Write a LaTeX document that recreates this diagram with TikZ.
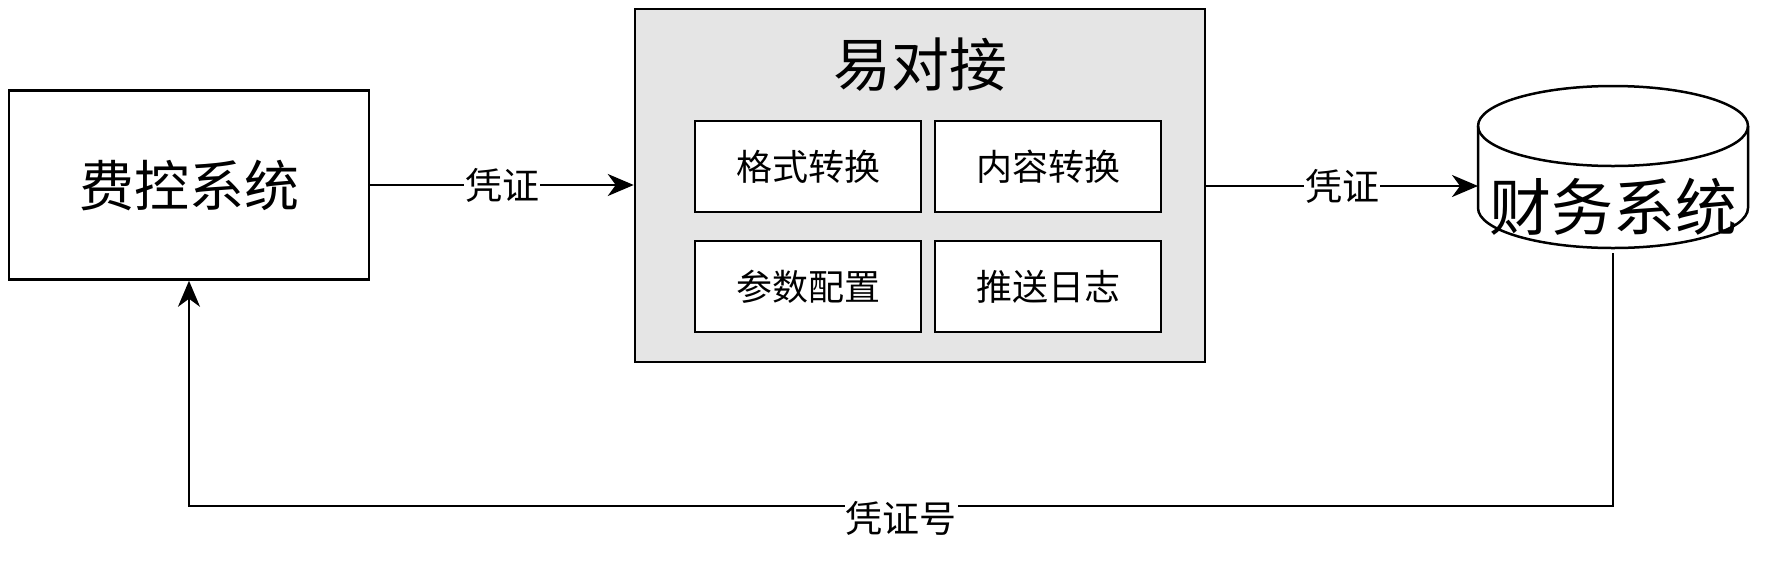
\documentclass[tikz,border=0pt]{standalone}
\usepackage{fontspec}
\setmainfont{Noto Sans CJK SC}
\usetikzlibrary{arrows.meta}
\tikzset{
  box/.style={draw,line width=2.5pt,minimum width=#1,inner sep=0pt},
  line/.style={line width=2.5pt},
  arr/.style={line,-{Stealth[length=26pt,width=22pt,inset=8pt]}},
  lbl/.style={fill=white,inner sep=1pt,font=\fontsize{37}{37}\selectfont}
}
\begin{document}
\begin{tikzpicture}[x=1pt,y=-1pt]
  \useasboundingbox (0,0) rectangle (1791,582);
  % left system
  \node[box=360pt,minimum height=189pt,font=\fontsize{55}{55}\selectfont] (fk) at (189,185) {费控系统};
  % middle platform
  \node[box=570pt,minimum height=353pt,fill=black!10] (ydj) at (920,185.5) {};
  \node[font=\fontsize{58}{58}\selectfont] (title) at (920,65) {易对接};
  \begin{scope}[every node/.style={box=226pt,minimum height=91pt,fill=white,font=\fontsize{36}{36}\selectfont}]
    \node (gs) at (808,166.5) {格式转换};
    \node (nr) at (1048,166.5) {内容转换};
    \node (cs) at (808,286.5) {参数配置};
    \node (ts) at (1048,286.5) {推送日志};
  \end{scope}
  % right system (cylinder)
  \draw[line,fill=white] (1478,126) -- (1478,208) arc[start angle=180,end angle=0,x radius=135,y radius=40]
    -- (1748,126) arc[start angle=0,end angle=-180,x radius=135,y radius=40] -- cycle;
  \draw[line] (1478,126) arc[start angle=180,end angle=0,x radius=135,y radius=40];
  \node[font=\fontsize{62}{62}\selectfont] (cw) at (1613,207) {财务系统};
  \coordinate (cwl) at (1478,186);
  \coordinate (cwb) at (1613,253);
  % connectors
  \draw[arr] (fk.east) -- node[lbl] {凭证} (ydj.west |- fk.east);
  \draw[arr] (ydj.east |- cwl) -- node[lbl] {凭证} (cwl);
  \coordinate (c1) at (1613,506);
  \coordinate (c2) at (189,506);
  \draw[arr] (cwb) -- (c1) -- node[lbl,pos=0.5,yshift=-12pt] {凭证号} (c2) -- (fk.south);
\end{tikzpicture}
\end{document}
